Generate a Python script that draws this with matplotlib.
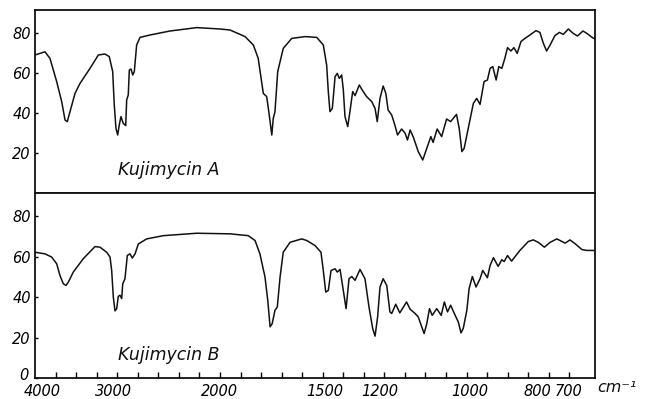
"""
IR spectra of Kujimycin A and B, two stacked panels on one chart-paper scale.
"""

import numpy as np
import matplotlib
matplotlib.use('Agg')
import matplotlib.pyplot as plt
from matplotlib.transforms import ScaledTranslation

# Kujimycin A  (wavenumber cm-1, transmittance %)
wavenumber_a = [
    4000, 3872, 3808, 3722, 3658, 3615, 3586, 3551, 3487, 3423, 3295, 3188, 3103,
    3048, 3004, 2988, 2972, 2956, 2941, 2925, 2903, 2880, 2871, 2856, 2846, 2830,
    2814, 2799, 2777, 2745, 2651, 2462, 2210, 1995, 1948, 1877, 1838, 1815, 1791,
    1775, 1763, 1751, 1744, 1736, 1723, 1697, 1657, 1594, 1539, 1508, 1491, 1482,
    1473, 1460, 1445, 1433, 1422, 1409, 1400, 1391, 1376, 1364, 1349, 1336, 1313,
    1297, 1273, 1245, 1227, 1215, 1200, 1193, 1187, 1182, 1174, 1167, 1161, 1152,
    1144, 1139, 1133, 1126, 1115, 1105, 1096, 1087, 1082, 1073, 1063, 1052, 1043,
    1030, 1024, 1018, 1013, 1004, 990, 980, 970, 958, 948, 940, 932, 922, 914, 905,
    896, 888, 878, 869, 859, 848, 836, 821, 803, 791, 780, 770, 759, 744, 730, 718,
    702, 687, 674, 657, 645, 629, 620,
]
transmittance_a = [
    69, 70.6, 67.3, 55.7, 45.7, 36.5, 35.7, 40.7, 49.8, 54.8, 62.3, 69, 69.5,
    68.2, 60.7, 44, 32.3, 29, 34, 38.2, 34.8, 33.7, 46.5, 49, 61.5, 62,
    59, 60.7, 74, 77.8, 79, 81, 82.7, 82, 81.5, 78.2, 74, 67.3, 49.8,
    48.2, 39, 29, 37.3, 40.7, 60.7, 72.3, 77.3, 78.2, 77.8, 74, 64, 50.7,
    40.7, 42.3, 58.2, 59.8, 57.3, 59, 51.5, 38.2, 33.2, 40.7, 50.7, 48.7, 54,
    51.5, 48.2, 45.7, 42.3, 35.7, 47.3, 53.5, 49.8, 41.5, 39, 34, 29, 32,
    29.8, 26.5, 31.5, 28, 20.7, 16.5, 22.3, 28.2, 25.3, 32, 28.2, 37, 35.7,
    39.3, 32.3, 20.7, 22.3, 32.3, 44.8, 47.3, 44.3, 55.7, 56.5, 62.3, 63.2, 56.5, 63.2, 62.3,
    67.3, 72.7, 71, 72.7, 69.8, 75.7, 77.3, 79, 81.2, 80.3, 74.8, 71, 74, 78.7, 80.3, 79.3,
    82, 79.8, 78.5, 81, 79.8, 77.8, 77,
]

# Kujimycin B
wavenumber_b = [
    4000, 3872, 3786, 3722, 3680, 3637, 3603, 3573, 3509, 3381, 3231, 3167, 3081,
    3038, 3017, 2997, 2981, 2965, 2950, 2934, 2918, 2908, 2887, 2865, 2840, 2818,
    2792, 2761, 2682, 2525, 2210, 1948, 1862, 1830, 1807, 1783, 1770, 1759, 1749,
    1736, 1725, 1712, 1697, 1665, 1610, 1586, 1547, 1519, 1508, 1496, 1482, 1467,
    1445, 1433, 1418, 1403, 1385, 1369, 1354, 1336, 1309, 1282, 1260, 1240, 1227,
    1213, 1200, 1193, 1185, 1178, 1174, 1165, 1156, 1141, 1133, 1122, 1115, 1102,
    1096, 1090, 1084, 1074, 1064, 1057, 1050, 1043, 1033, 1026, 1020, 1015, 1007,
    1002, 993, 982, 970, 962, 948, 940, 930, 916, 905, 898, 888, 876, 851, 826,
    811, 796, 777, 759, 738, 712, 697, 681, 660, 645, 629, 620,
]
transmittance_b = [
    62.2, 61.4, 59.8, 56.5, 50.7, 46.6, 45.8, 47.4, 52.4, 59, 65, 64.7, 62.2,
    59.8, 53.2, 40, 33.2, 34.3, 40.4, 40.9, 39.3, 46.6, 49.1, 60.6, 61.4, 59.3,
    61.4, 66.3, 68.8, 70.4, 71.6, 71.3, 70.4, 68, 61.4, 49.9, 38.4, 25.3, 26.9,
    33.5, 35.1, 49.9, 62.2, 67.1, 68.8, 68, 65.5, 62.2, 53.2, 42.5, 43.3, 53.2,
    54, 52.4, 53.7, 45, 34.3, 49.1, 50.2, 48.3, 53.7, 49.1, 35.1, 24.5, 20.7,
    30.2, 45, 49.1, 45.8, 32.7, 31.9, 36.5, 32.2, 37.6, 34, 31.9, 30.2, 22,
    26.9, 34.3, 31, 34.3, 31, 37.6, 32.7, 36, 31, 27.7, 22.3, 24.5, 33.5,
    44.2, 50.2, 45, 49.1, 53.2, 49.6, 55.7, 59.5, 55.2, 58.5, 57.6, 60.6, 57.8, 63.1, 67.5,
    68.3, 67.1, 64.7, 67.1, 68.8, 66.7, 68.3, 66.4, 63.5, 63.1, 63.1, 63,
]

x_ticks = [4000, 3000, 2000, 1500, 1200, 1000, 800, 700]
x_tick_labels = ['4000', '3000', '2000', '1500', '1200', '1000', '800', '700']
y_ticks_a = [20, 40, 60, 80]
y_ticks_b = [0, 20, 40, 60, 80]

# Chart paper is not linear in wavenumber: piecewise mapping to chart position
SCALE_WN = [620, 700, 800, 1000, 1200, 1500, 2000, 3000, 4000]
SCALE_POS = [0, 26, 58, 125, 215, 270, 376, 482, 560]


def _forward(x):
    return np.interp(x, SCALE_WN, SCALE_POS)


def _inverse(p):
    return np.interp(p, SCALE_POS, SCALE_WN)


LINE = '#111111'
FONT = dict(family='DejaVu Sans', style='italic')

W, H = 653, 399
fig = plt.figure(figsize=(W / 100, H / 100), dpi=100)
fig.patch.set_facecolor('white')
ax_a = fig.add_axes([35 / W, 1 - 193 / H, 560 / W, 183 / H])
ax_b = fig.add_axes([35 / W, 1 - 378 / H, 560 / W, 185 / H])

# small chart-paper ticks, evenly spaced along the bottom edge
minor_pos = 560 - 20.55 * np.arange(1, 27)
minor_wn = _inverse(minor_pos)

for ax, wn, tr, yt, name in [
    (ax_a, wavenumber_a, transmittance_a, y_ticks_a, 'Kujimycin A'),
    (ax_b, wavenumber_b, transmittance_b, y_ticks_b, 'Kujimycin B'),
]:
    ax.set_xscale('function', functions=(_forward, _inverse))
    ax.plot(wn, tr, color=LINE, linewidth=1.1, solid_joinstyle='round')
    ax.set_xlim(4000, 620)
    ax.set_ylim(0, 91.5)
    ax.set_yticks(yt)
    ax.set_yticklabels([str(v) for v in yt], fontsize=10.5, **FONT)
    ax.tick_params(axis='y', direction='in', length=2, width=1, pad=3)
    for s in ax.spines.values():
        s.set_linewidth(1.3)
        s.set_color(LINE)
    ax.text(0.148, 0.10, name, transform=ax.transAxes, fontsize=12.5,
            ha='left', va='baseline', color=LINE, **FONT)

ax_a.set_xticks([])
ax_a.set_xticks([], minor=True)

ax_b.set_xticks(x_ticks)
ax_b.set_xticklabels(x_tick_labels, fontsize=10.5, **FONT)
ax_b.set_xticks(minor_wn, minor=True)
ax_b.tick_params(axis='x', which='major', length=0, pad=4)
ax_b.tick_params(axis='x', which='minor', direction='in', length=4, width=1)

# hand-lettered labels sit a little off their marks: 4000 to the right, 0 raised
for lab in ax_b.get_xticklabels():
    if lab.get_text() == '4000':
        lab.set_transform(lab.get_transform() + ScaledTranslation(0.07, 0, fig.dpi_scale_trans))
for lab in ax_b.get_yticklabels():
    if lab.get_text() == '0':
        lab.set_transform(lab.get_transform() + ScaledTranslation(-0.02, 0.04, fig.dpi_scale_trans))

fig.text(597 / W, 1 - 388 / H, 'cm\u207b\u00b9', fontsize=11.5, ha='left', va='center',
         color=LINE, **FONT)

fig.savefig('out.png', dpi=100, facecolor='white')
plt.close(fig)
